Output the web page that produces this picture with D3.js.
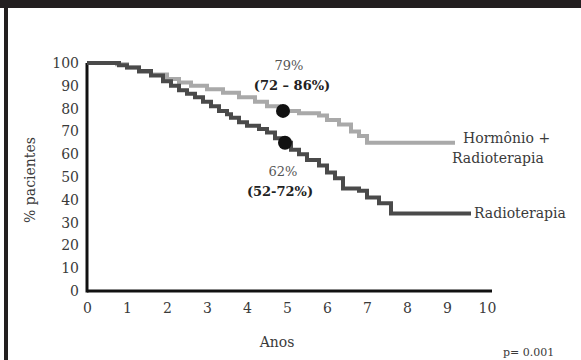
<!DOCTYPE html>
<html>
<head>
<meta charset="utf-8">
<script src="https://cdn.jsdelivr.net/npm/d3@7"></script>
<style>
  html, body { margin: 0; padding: 0; background: #fff; }
  svg { display: block; }
</style>
</head>
<body>
<svg id="chart" width="581" height="360"></svg>
<script>
// Data (years, % patients)
const hormTimes = [0, 0.75, 1.0, 1.3, 1.6, 2.0, 2.3, 2.6, 3.0, 3.4, 3.8, 4.2, 4.5, 4.8, 5.3, 5.8, 6.0, 6.3, 6.6, 6.8, 7.0, 9.2];
const hormValues = [100, 99.5, 98, 96, 95, 93, 91.5, 90, 88.5, 87, 85, 83, 81, 79, 78, 77, 75, 73, 70, 68, 65, 65];

const radioTimes = [0, 0.6, 0.8, 1.0, 1.3, 1.6, 1.9, 2.1, 2.3, 2.5, 2.7, 2.9, 3.1, 3.3, 3.5, 3.6, 3.8, 4.0, 4.3, 4.5, 4.7, 4.9, 5.1, 5.3, 5.5, 5.8, 6.0, 6.2, 6.4, 6.8, 7.0, 7.3, 7.6, 9.6];
const radioValues = [100, 100, 99, 98, 96.5, 94.5, 92, 90, 88, 86.5, 85, 83, 81, 79, 77.5, 76, 74, 72.5, 71, 69.5, 67, 65, 62, 60, 57.5, 55, 52, 49.5, 45, 44, 41, 38.5, 34, 34];

const markTimes = [4.9, 4.95];
const markValues = [79, 65];

const xTicks = [0, 1, 2, 3, 4, 5, 6, 7, 8, 9, 10];
const yTicks = [0, 10, 20, 30, 40, 50, 60, 70, 80, 90, 100];

const FONT = '"DejaVu Serif", "Liberation Serif", "Times New Roman", serif';
const COLORS = { horm: '#a9a9a9', radio: '#4a4a4a', axis: '#111', text: '#3a3a3a', frame: '#231f20' };

const svg = d3.select('#chart');

// frame: top bar and left edge
svg.append('rect').attr('x', 0).attr('y', 0).attr('width', 581).attr('height', 8).attr('fill', COLORS.frame);
svg.append('rect').attr('x', 4).attr('y', 0).attr('width', 4).attr('height', 360).attr('fill', COLORS.frame);

const x = d3.scaleLinear().domain([0, 10]).range([87, 487]);
const y = d3.scaleLinear().domain([0, 100]).range([291, 63]);

// axes
const xAxis = svg.append('g')
    .attr('transform', `translate(0,${y(0)})`)
    .call(d3.axisBottom(x).tickValues(xTicks).tickSize(0).tickPadding(12).tickFormat(d3.format('d')));
xAxis.select('.domain').attr('d', `M${x(0)},0H${x(10) + 5}`).attr('stroke', COLORS.axis).attr('stroke-width', 3);

const yAxis = svg.append('g')
    .attr('transform', `translate(${x(0)},0)`)
    .call(d3.axisLeft(y).tickValues(yTicks).tickSize(0).tickPadding(8).tickFormat(d3.format('d')));
yAxis.select('.domain').attr('d', `M0,${y(0) + 1.5}V${y(100)}`).attr('stroke', COLORS.axis).attr('stroke-width', 3);

svg.selectAll('g').attr('font-family', FONT);
svg.selectAll('.tick text')
    .attr('font-family', FONT)
    .attr('font-size', 14)
    .attr('fill', COLORS.text);

// curves
const line = d3.line()
    .x(d => x(d[0]))
    .y(d => y(d[1]))
    .curve(d3.curveStepAfter);

const hormData = hormTimes.map((t, i) => [t, hormValues[i]]);
const radioData = radioTimes.map((t, i) => [t, radioValues[i]]);

svg.append('path')
    .datum(hormData)
    .attr('d', line)
    .attr('fill', 'none')
    .attr('stroke', COLORS.horm)
    .attr('stroke-width', 4);

svg.append('path')
    .datum(radioData)
    .attr('d', line)
    .attr('fill', 'none')
    .attr('stroke', COLORS.radio)
    .attr('stroke-width', 4);

// 5-year markers
svg.selectAll('circle.mark')
    .data(markTimes.map((t, i) => [t, markValues[i]]))
    .enter()
    .append('circle')
    .attr('class', 'mark')
    .attr('cx', d => x(d[0]))
    .attr('cy', d => y(d[1]))
    .attr('r', 7)
    .attr('fill', '#111');

// annotations
function label(txt, px, py, opts = {}) {
    svg.append('text')
        .attr('x', px)
        .attr('y', py)
        .attr('font-family', FONT)
        .attr('text-anchor', opts.anchor || 'start')
        .attr('font-size', opts.size || 13)
        .attr('font-weight', opts.weight || 'normal')
        .attr('fill', opts.color || COLORS.text)
        .text(txt);
}

label('79%', 289, 70, { anchor: 'middle', color: '#555' });
label('(72 – 86%)', 292, 90, { anchor: 'middle', weight: 'bold', color: '#222' });
label('62%', 283, 176, { anchor: 'middle', color: '#555' });
label('(52-72%)', 280, 196, { anchor: 'middle', weight: 'bold', color: '#222' });

label('Hormônio +', 463, 143, { size: 14 });
label('Radioterapia', 452, 163, { size: 14 });
label('Radioterapia', 474, 218, { size: 14 });

label('Anos', 277, 347, { anchor: 'middle', size: 14 });
label('p= 0.001', 503, 356, { size: 11 });

svg.append('text')
    .attr('transform', 'translate(35,180) rotate(-90)')
    .attr('font-family', FONT)
    .attr('text-anchor', 'middle')
    .attr('font-size', 14)
    .attr('fill', COLORS.text)
    .text('% pacientes');
</script>
</body>
</html>
